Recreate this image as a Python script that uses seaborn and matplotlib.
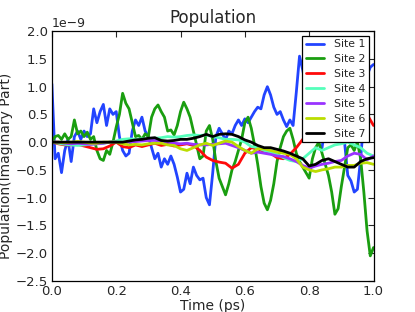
import numpy as np
import pandas as pd
import matplotlib
matplotlib.use("Agg")
import matplotlib.pyplot as plt
import seaborn as sns

# time grids (ps)
t_fast = np.linspace(0.0, 1.0, 101)
t_slow = np.linspace(0.0, 1.0, 51)

# imaginary part of population, units of 1e-9
site1 = [1.05, -0.3, -0.2, -0.55, -0.15, 0.05, -0.35, 0.1, 0.2, 0.05,
         0.2, 0.1, 0.15, 0.6, 0.35, 0.55, 0.68, 0.3, 0.6, 0.5,
         0.55, 0.1, -0.15, -0.25, -0.2, 0.2, 0.4, 0.3, 0.45, 0.2,
         0.1, -0.1, -0.3, -0.2, -0.45, -0.3, -0.4, -0.25, -0.4, -0.63,
         -0.9, -0.85, -0.56, -0.75, -0.45, -0.6, -0.68, -0.65, -1.0, -1.13,
         -0.56, 0.1, 0.25, 0.15, 0.04, 0.2, 0.15, 0.3, 0.4, 0.3,
         0.42, 0.35, 0.45, 0.55, 0.63, 0.6, 0.85, 1.0, 0.85, 0.63,
         0.5, 0.55, 0.4, 0.28, 0.4, 0.3, 0.9, 1.55, 1.3, 1.0,
         0.7, 0.5, 0.2, -0.05, -0.1, 0.3, 0.6, 0.5, 0.3, 0.4,
         0.2, 0.0, -0.6, -0.7, -0.9, -0.85, -0.3, 0.4, 1.2, 1.35,
         1.4]
site2 = [0.0, 0.1, 0.12, 0.05, 0.15, 0.05, 0.1, 0.4, 0.15, 0.2,
         0.1, 0.18, 0.05, 0.1, -0.15, -0.3, -0.33, -0.15, -0.22, 0.0,
         0.27, 0.5, 0.88, 0.7, 0.6, 0.35, 0.1, 0.12, 0.05, 0.15,
         0.1, 0.45, 0.6, 0.67, 0.55, 0.45, 0.2, 0.22, 0.13, 0.3,
         0.55, 0.72, 0.6, 0.45, 0.2, -0.05, -0.3, -0.25, 0.2, 0.3,
         0.05, -0.35, -0.65, -0.8, -0.95, -0.75, -0.5, -0.35, -0.15, 0.05,
         0.35, 0.45, 0.25, -0.05, -0.4, -0.8, -1.1, -1.22, -1.05, -0.75,
         -0.35, -0.1, 0.1, 0.2, 0.25, 0.05, -0.2, -0.35, -0.45, -0.55,
         -0.65, -0.3, -0.1, 0.0, -0.2, -0.4, -0.6, -0.9, -1.3, -1.2,
         -0.8, -0.45, -0.1, -0.05, -0.15, 0.0, -0.3, -0.9, -1.6, -2.05,
         -1.9]
site3 = [0.0, -0.03, -0.05, -0.05, -0.04, -0.07, -0.1, -0.13, -0.12, -0.07,
         0.0, -0.08, -0.1, -0.05, -0.08, -0.05, -0.02, -0.06, -0.04, -0.07,
         -0.05, -0.03, -0.06, -0.15, -0.27, -0.33, -0.36, -0.38, -0.47, -0.4,
         -0.2, -0.1, -0.12, -0.17, -0.2, -0.28, -0.3, -0.22, -0.1, 0.05,
         0.15, 0.25, 0.3, 0.35, 0.45, 0.5, 0.55, 0.6, 0.6, 0.5,
         0.3]
site4 = [0.0, -0.02, -0.04, -0.05, -0.06, -0.05, -0.04, -0.03, -0.02, 0.0,
         0.02, 0.05, 0.06, 0.05, 0.06, 0.05, 0.07, 0.08, 0.1, 0.09,
         0.1, 0.12, 0.13, 0.12, 0.13, 0.1, 0.08, 0.05, 0.05, 0.04,
         0.0, -0.08, -0.1, -0.15, -0.18, -0.22, -0.28, -0.33, -0.35, -0.3,
         -0.2, -0.1, -0.15, -0.1, -0.05, -0.03, 0.0, -0.05, -0.1, -0.2,
         -0.25]
site5 = [0.0, 0.0, -0.02, -0.03, -0.02, -0.03, -0.04, -0.03, -0.02, 0.0,
         0.0, -0.02, 0.0, 0.01, 0.02, 0.03, 0.03, 0.02, 0.0, -0.02,
         -0.03, -0.02, -0.04, -0.05, -0.05, -0.04, -0.03, -0.02, -0.06, -0.1,
         -0.15, -0.2, -0.18, -0.2, -0.22, -0.25, -0.26, -0.3, -0.35, -0.42,
         -0.47, -0.43, -0.4, -0.38, -0.35, -0.33, -0.25, -0.2, -0.22, -0.32,
         -0.25]
site6 = [0.0, 0.0, -0.01, 0.0, 0.01, 0.0, -0.02, -0.02, 0.0, 0.0,
         0.0, -0.03, -0.05, -0.04, -0.05, -0.03, -0.02, -0.02, -0.05, -0.06,
         -0.12, -0.15, -0.1, -0.05, -0.02, -0.06, -0.02, 0.02, 0.0, -0.08,
         -0.15, -0.2, -0.12, -0.12, -0.15, -0.18, -0.2, -0.22, -0.3, -0.45,
         -0.5, -0.53, -0.5, -0.48, -0.45, -0.45, -0.42, -0.42, -0.38, -0.37,
         -0.4]
site7 = [0.0, 0.0, 0.0, 0.0, 0.0, 0.0, 0.0, 0.0, 0.0, 0.0,
         0.0, 0.0, 0.02, 0.04, 0.05, 0.07, 0.08, 0.03, 0.02, 0.03,
         0.05, 0.05, 0.07, 0.1, 0.14, 0.1, 0.14, 0.15, 0.14, 0.1,
         0.04, 0.0, -0.06, -0.1, -0.1, -0.13, -0.16, -0.2, -0.25, -0.3,
         -0.43, -0.4, -0.33, -0.3, -0.35, -0.4, -0.45, -0.45, -0.35, -0.3,
         -0.28]

labels = ["Site 1", "Site 2", "Site 3", "Site 4", "Site 5", "Site 6", "Site 7"]
colors = ["#2244ff", "#1a9e10", "#ff0a0a", "#55ffbb", "#9933ff", "#bbdd00", "#000000"]

series = [(t_fast, site1), (t_fast, site2), (t_slow, site3), (t_slow, site4),
          (t_slow, site5), (t_slow, site6), (t_slow, site7)]

sns.set_style("white")
plt.rcParams['font.family'] = ['DejaVu Sans']

fig, ax = plt.subplots(figsize=(4.15, 3.12), dpi=100)
fig.subplots_adjust(left=0.125, right=0.9, bottom=0.1, top=0.9)

for (t, vals), lab, col in zip(series, labels, colors):
    df = pd.DataFrame({"t": t, "v": np.array(vals) * 1e-9})
    sns.lineplot(data=df, x="t", y="v", ax=ax, color=col, lw=2.0, label=lab)

ax.set_xlim(0, 1.0)
ax.set_ylim(-2.5e-9, 2.0e-9)
ax.set_xticks([0.0, 0.2, 0.4, 0.6, 0.8, 1.0])
ax.set_yticks(np.arange(-2.5, 2.01, 0.5) * 1e-9)
ax.tick_params(axis='both', which='both', direction='in', top=True, right=True,
               length=4, width=0.8, labelsize=9.5, pad=3)
for sp in ax.spines.values():
    sp.set_color('black')
    sp.set_linewidth(0.9)
ax.yaxis.get_offset_text().set_fontsize(9)

ax.set_title("Population", fontsize=12)
ax.set_xlabel("Time (ps)", fontsize=10, labelpad=1)
ax.set_ylabel("Population(Imaginary Part)", fontsize=10)
ax.yaxis.set_label_coords(-0.12, 0.46)

leg = ax.legend(loc='upper right', fontsize=7.8, frameon=True, fancybox=False,
                handlelength=1.7, handletextpad=0.9, borderpad=0.35,
                labelspacing=0.45, borderaxespad=0.4)
leg.get_frame().set_edgecolor('black')
leg.get_frame().set_linewidth(0.9)
leg.get_frame().set_alpha(1.0)

fig.savefig("out.png", dpi=100, facecolor='white')
